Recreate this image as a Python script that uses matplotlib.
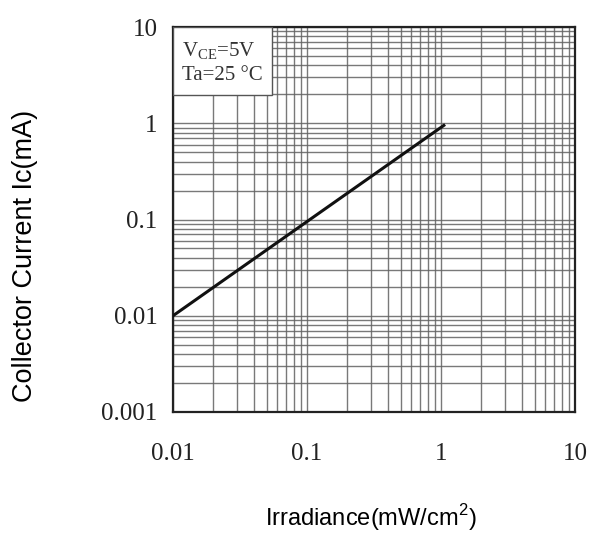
import matplotlib
matplotlib.use("Agg")
import matplotlib.pyplot as plt
from matplotlib.patches import Rectangle
from matplotlib.ticker import LogLocator, FixedLocator, NullFormatter

# Data
irradiance = [0.01, 1.05]          # mW/cm^2
collector_current = [0.01, 0.95]   # mA
x_ticks = [0.01, 0.1, 1, 10]
x_tick_labels = ["0.01", "0.1", "1", "10"]
y_ticks = [0.001, 0.01, 0.1, 1, 10]
y_tick_labels = ["0.001", "0.01", "0.1", "1", "10"]

fig = plt.figure(figsize=(6.09, 5.34), dpi=100)
ax = fig.add_axes([173/609, 1-412/534, (575-173)/609, (412-27)/534])

ax.set_xscale("log")
ax.set_yscale("log")
ax.set_xlim(0.01, 10)
ax.set_ylim(0.001, 10)

ax.xaxis.set_major_locator(FixedLocator(x_ticks))
ax.yaxis.set_major_locator(FixedLocator(y_ticks))
ax.xaxis.set_minor_locator(LogLocator(base=10, subs=range(2, 10), numticks=20))
ax.yaxis.set_minor_locator(LogLocator(base=10, subs=range(2, 10), numticks=20))
ax.xaxis.set_minor_formatter(NullFormatter())
ax.yaxis.set_minor_formatter(NullFormatter())
ax.set_xticklabels(x_tick_labels)
ax.set_yticklabels(y_tick_labels)

serif = ["Liberation Serif", "DejaVu Serif"]
for lab in ax.get_xticklabels() + ax.get_yticklabels():
    lab.set_fontfamily(serif)
    lab.set_fontsize(18)
    lab.set_color("#222222")

ax.tick_params(which="both", length=0)
ax.tick_params(axis="x", pad=22)
ax.tick_params(axis="y", pad=11)

ax.grid(True, which="both", color="#626262", linewidth=1.0, alpha=0.85)
ax.set_axisbelow(True)
for s in ax.spines.values():
    s.set_linewidth(1.6)
    s.set_color("#222222")

ax.plot(irradiance, collector_current, color="#111111", linewidth=2.2, zorder=3)

# Condition box in upper left corner
bw = (272 - 173) / 402
bh = (95 - 27) / 385
ax.add_patch(Rectangle((0, 1 - bh), bw, bh, transform=ax.transAxes,
                       facecolor="white", edgecolor="#555555", linewidth=1.0,
                       zorder=4))
ax.text(9/402, 1 - 24/385, "V$_{\\mathregular{CE}}$=5V", transform=ax.transAxes,
        ha="left", va="center", fontfamily=serif, fontsize=15,
        color="#333333", zorder=5)
ax.text(9/402, 1 - 48/385, "Ta=25 \u00b0C", transform=ax.transAxes,
        ha="left", va="center", fontfamily=serif, fontsize=15,
        color="#333333", zorder=5)

fig.text(25/609, 1-256/534, "Collector Current Ic(mA)", rotation=90,
         ha="center", va="center", fontfamily="Liberation Sans", fontsize=19.5)
fig.text(371/609, 1-518/534, "Irradiance(mW/cm$^{\\mathregular{2}}$)",
         ha="center", va="center", fontfamily="Liberation Sans", fontsize=17)

fig.savefig("out.png", dpi=100)
